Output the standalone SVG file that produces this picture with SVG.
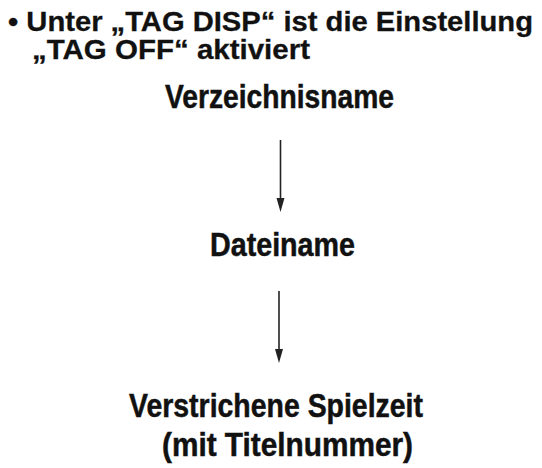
<svg xmlns="http://www.w3.org/2000/svg" width="542" height="468" viewBox="0 0 542 468">
<style>
.hdr{font-family:"Liberation Sans",Arial,sans-serif;font-weight:bold;font-size:28px;fill:#111;stroke:#111;stroke-width:0.3}
.lbl{font-family:"Liberation Sans Narrow","Liberation Sans",Arial,sans-serif;font-weight:bold;font-size:33px;fill:#111;stroke:#111;stroke-width:0.5}
.conn{stroke:#222;stroke-width:1.6;fill:none}
.head{fill:#222}
</style>
<rect width="542" height="468" fill="#fff"/>
<g id="header">
<text class="hdr" x="8" y="31" textLength="525" lengthAdjust="spacingAndGlyphs">• Unter „TAG DISP“ ist die Einstellung</text>
<text class="hdr" x="32" y="59" textLength="278" lengthAdjust="spacingAndGlyphs">„TAG OFF“ aktiviert</text>
</g>
<g id="node-verzeichnisname">
<text class="lbl" x="165" y="108" textLength="229" lengthAdjust="spacingAndGlyphs">Verzeichnisname</text>
</g>
<g id="node-dateiname">
<text class="lbl" x="210" y="256" textLength="145" lengthAdjust="spacingAndGlyphs">Dateiname</text>
</g>
<g id="node-spielzeit">
<text class="lbl" x="129" y="417" textLength="294" lengthAdjust="spacingAndGlyphs">Verstrichene Spielzeit</text>
<text class="lbl" x="162" y="456" textLength="251" lengthAdjust="spacingAndGlyphs">(mit Titelnummer)</text>
</g>
<g id="connectors">
<line class="conn" x1="280.5" y1="140" x2="280.5" y2="200"/>
<path class="head" d="M276.5,198 L284.5,198 L280.5,212 Z"/>
<line class="conn" x1="279" y1="291" x2="279" y2="351"/>
<path class="head" d="M275,349 L283,349 L279,363 Z"/>
</g>
</svg>
